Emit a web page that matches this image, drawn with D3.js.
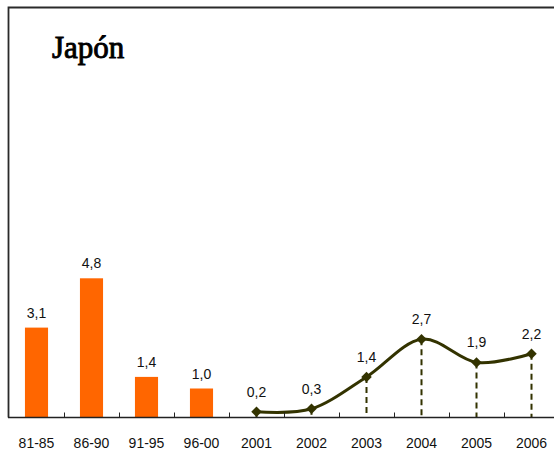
<!DOCTYPE html>
<html>
<head>
<meta charset="utf-8">
<script src="https://cdn.jsdelivr.net/npm/d3@7"></script>
<style>
  body { margin: 0; background: #fff; }
  svg { display: block; }
  .lbl { font-family: "Liberation Sans", Arial, sans-serif; font-size: 14px; fill: #111; }
</style>
</head>
<body>
<div id="chart"></div>
<script>
const categories = ['81-85', '86-90', '91-95', '96-00', '2001', '2002', '2003', '2004', '2005', '2006']
const bar_cats = ['81-85', '86-90', '91-95', '96-00']
const bar_values = [3.1, 4.8, 1.4, 1.0]
const line_cats = ['2001', '2002', '2003', '2004', '2005', '2006']
const line_values = [0.2, 0.3, 1.4, 2.7, 1.9, 2.2]

const width = 554, height = 452
const fmt = v => d3.format('.1f')(v).replace('.', ',')

const svg = d3.select('#chart').append('svg')
	.attr('width', width)
	.attr('height', height)

const x = d3.scaleBand().domain(categories).range([9, 559])
const y = d3.scaleLinear().domain([0, 14]).range([417.5, 11.5])
const bar_w = x.bandwidth() * 0.42

// frame (top + left)
svg.append('path')
	.attr('d', 'M8.5,417.5 V7.5 H' + width)
	.attr('fill', 'none')
	.attr('stroke', '#2a2a2a')
	.attr('stroke-width', 1.8)

svg.append('text')
	.text('Japón')
	.attr('x', 52).attr('y', 58)
	.style('font-family', '"Liberation Serif", "Times New Roman", serif')
	.style('font-size', '31px')
	.attr('fill', '#000')
	.attr('stroke', '#000')
	.attr('stroke-width', 0.9)

// bars
const bars = bar_cats.map((c, i) => ({c: c, v: bar_values[i]}))
svg.selectAll('rect.bar')
	.data(bars)
	.enter().append('rect')
	.attr('class', 'bar')
	.attr('x', d => x(d.c) + (x.bandwidth() - bar_w) / 2)
	.attr('width', bar_w)
	.attr('y', d => y(d.v))
	.attr('height', d => y(0) - y(d.v))
	.attr('fill', '#ff6600')
svg.selectAll('text.bv')
	.data(bars)
	.enter().append('text')
	.attr('class', 'lbl bv')
	.attr('text-anchor', 'middle')
	.attr('x', d => x(d.c) + x.bandwidth() / 2)
	.attr('y', d => y(d.v) - 10)
	.text(d => fmt(d.v))

// line
const pts = line_cats.map((c, i) => ({c: c, v: line_values[i]}))
const cx = d => x(d.c) + x.bandwidth() / 2
svg.selectAll('line.drop')
	.data(pts)
	.enter().append('line')
	.attr('x1', cx).attr('x2', cx)
	.attr('y1', d => y(d.v)).attr('y2', y(0))
	.attr('stroke', '#333300')
	.attr('stroke-width', 2)
	.attr('stroke-dasharray', '6,4')
svg.append('path')
	.datum(pts)
	.attr('fill', 'none')
	.attr('stroke', '#333300')
	.attr('stroke-width', 3)
	.attr('d', d3.line().x(cx).y(d => y(d.v)).curve(d3.curveCardinal.tension(0)))
svg.selectAll('path.mk')
	.data(pts)
	.enter().append('path')
	.attr('d', d3.symbol(d3.symbolDiamond2, 70))
	.attr('transform', d => 'translate(' + cx(d) + ',' + y(d.v) + ')')
	.attr('fill', '#333300')
svg.selectAll('text.lv')
	.data(pts)
	.enter().append('text')
	.attr('class', 'lbl lv')
	.attr('text-anchor', 'middle')
	.attr('x', cx)
	.attr('y', d => y(d.v) - 15)
	.text(d => fmt(d.v))

// x axis
svg.append('line')
	.attr('x1', 8).attr('x2', width)
	.attr('y1', y(0)).attr('y2', y(0))
	.attr('stroke', '#222')
	.attr('stroke-width', 1.5)
svg.selectAll('line.tick')
	.data(categories.slice(1))
	.enter().append('line')
	.attr('x1', d => Math.round(x(d)) + 0.5).attr('x2', d => Math.round(x(d)) + 0.5)
	.attr('y1', y(0)).attr('y2', y(0) - 5)
	.attr('stroke', '#222')
svg.selectAll('text.xl')
	.data(categories)
	.enter().append('text')
	.attr('class', 'lbl xl')
	.attr('text-anchor', 'middle')
	.attr('x', d => x(d) + x.bandwidth() / 2)
	.attr('y', 448)
	.text(d => d)
</script>
</body>
</html>
